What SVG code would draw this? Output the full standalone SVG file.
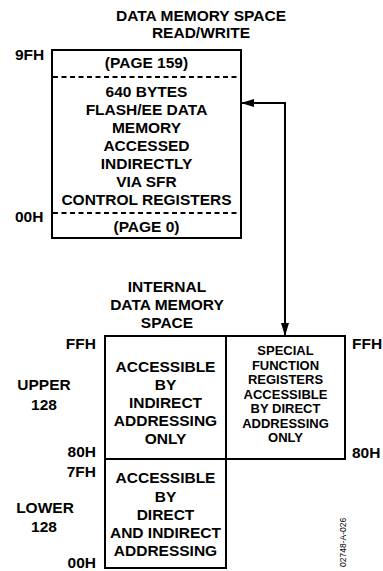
<svg xmlns="http://www.w3.org/2000/svg" width="383" height="571" viewBox="0 0 383 571">
<style>
text{font-family:"Liberation Sans",Arial,sans-serif;font-weight:bold;font-size:15.5px;fill:#000}
.c{text-anchor:middle}
.e{text-anchor:end}
.s{font-size:13px}
.n{font-weight:normal;font-size:8.5px}
.box{fill:#fff;stroke:#000;stroke-width:2}
.dash{fill:none;stroke:#000;stroke-width:2;stroke-dasharray:5 3.5}
.conn{fill:none;stroke:#000;stroke-width:2}
</style>
<defs>
<marker id="ah" viewBox="0 0 13 8" refX="12" refY="4" markerWidth="13" markerHeight="8" markerUnits="userSpaceOnUse" orient="auto-start-reverse">
<path d="M0,0 L13,4 L0,8 z" fill="#000"/>
</marker>
</defs>
<rect width="383" height="571" fill="#fff"/>

<g id="title-top">
<text class="c" x="201" y="21">DATA MEMORY SPACE</text>
<text class="c" x="201" y="38">READ/WRITE</text>
</g>

<g id="flash-memory">
<rect class="box" x="52" y="50" width="189" height="188"/>
<line class="dash" x1="53" y1="77" x2="240" y2="77"/>
<line class="dash" x1="53" y1="213" x2="240" y2="213"/>
<text class="c" x="146.5" y="68">(PAGE 159)</text>
<text class="c" x="146.5" y="97">640 BYTES</text>
<text class="c" x="146.5" y="115">FLASH/EE DATA</text>
<text class="c" x="146.5" y="133">MEMORY</text>
<text class="c" x="146.5" y="151">ACCESSED</text>
<text class="c" x="146.5" y="169">INDIRECTLY</text>
<text class="c" x="146.5" y="187">VIA SFR</text>
<text class="c" x="146.5" y="205">CONTROL REGISTERS</text>
<text class="c" x="146.5" y="232">(PAGE 0)</text>
<text x="15" y="60">9FH</text>
<text x="15" y="222">00H</text>
</g>

<g id="title-internal">
<text class="c" x="167" y="292">INTERNAL</text>
<text class="c" x="167" y="310">DATA MEMORY</text>
<text class="c" x="167" y="328">SPACE</text>
</g>

<g id="upper-128">
<rect class="box" x="105" y="336" width="121" height="123"/>
<text class="c" x="165.5" y="372">ACCESSIBLE</text>
<text class="c" x="165.5" y="390">BY</text>
<text class="c" x="165.5" y="408">INDIRECT</text>
<text class="c" x="165.5" y="426">ADDRESSING</text>
<text class="c" x="165.5" y="444">ONLY</text>
</g>

<g id="sfr">
<rect class="box" x="226" y="336" width="119" height="123"/>
<text class="c s" x="285.5" y="355">SPECIAL</text>
<text class="c s" x="285.5" y="369.5">FUNCTION</text>
<text class="c s" x="285.5" y="384">REGISTERS</text>
<text class="c s" x="285.5" y="398.5">ACCESSIBLE</text>
<text class="c s" x="285.5" y="413">BY DIRECT</text>
<text class="c s" x="285.5" y="427.5">ADDRESSING</text>
<text class="c s" x="285.5" y="442">ONLY</text>
</g>

<g id="lower-128">
<rect class="box" x="105" y="459" width="121" height="109"/>
<text class="c" x="165.5" y="483">ACCESSIBLE</text>
<text class="c" x="165.5" y="502">BY</text>
<text class="c" x="165.5" y="520">DIRECT</text>
<text class="c" x="165.5" y="538">AND INDIRECT</text>
<text class="c" x="165.5" y="556">ADDRESSING</text>
</g>

<g id="labels">
<text class="e" x="96" y="349">FFH</text>
<text class="c" x="44" y="390">UPPER</text>
<text class="c" x="44" y="410">128</text>
<text class="e" x="96" y="457">80H</text>
<text class="e" x="96" y="477">7FH</text>
<text class="c" x="45" y="513">LOWER</text>
<text class="c" x="44" y="532">128</text>
<text class="e" x="96" y="568">00H</text>
<text x="352" y="349">FFH</text>
<text x="352" y="458">80H</text>
<text class="n" transform="translate(346,567) rotate(-90)">02748-A-026</text>
</g>

<g id="connectors">
<path class="conn" d="M242,103 H285 V335" marker-start="url(#ah)" marker-end="url(#ah)"/>
</g>
</svg>
